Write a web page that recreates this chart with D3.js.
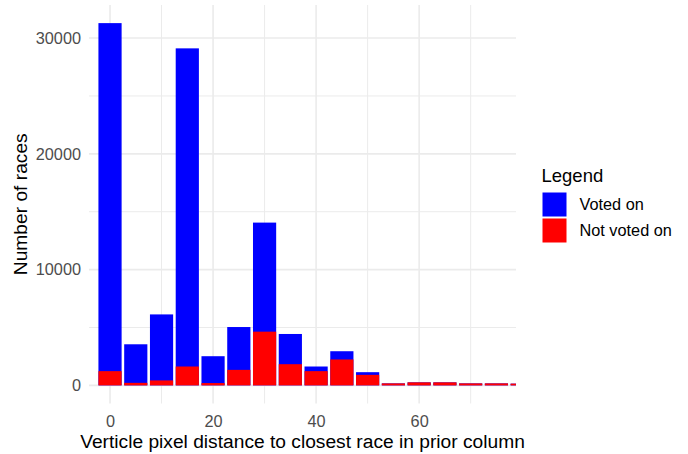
<!DOCTYPE html>
<html>
<head>
<meta charset="utf-8">
<script src="https://cdn.jsdelivr.net/npm/d3@7"></script>
<style>
  html, body { margin: 0; padding: 0; background: #fff; }
  svg { display: block; font-family: "Liberation Sans", Arial, sans-serif; }
</style>
</head>
<body>
<svg id="chart" width="688" height="454"></svg>
<script>
// Bin centres (binwidth 5)
const bins = [0, 5, 10, 15, 20, 25, 30, 35, 40, 45, 50, 55, 60, 65, 70, 75, 80];
// Total races per bin (voted on + not voted on)
const totalRaces = [31290, 3550, 6130, 29110, 2520, 5040, 14060, 4440, 1630, 2950, 1140, 170, 260, 260, 170, 170, 150];
// Races not voted on per bin
const notVoted = [1230, 220, 430, 1630, 200, 1340, 4640, 1830, 1230, 2240, 910, 170, 260, 260, 170, 170, 150];

const xTicks = [0, 20, 40, 60];
const xMinor = [10, 30, 50, 70];
const yTicks = [0, 10000, 20000, 30000];
const yMinor = [5000, 15000, 25000];

const legendLabels = ["Voted on", "Not voted on"];
const legendColors = ["#0000FF", "#FF0000"];

const panel = { left: 89, right: 516, top: 5, bottom: 403.5 };
const svg = d3.select("#chart");

const x = d3.scaleLinear().domain([-4.08, 78.8]).range([panel.left, panel.right]);
const y = d3.scaleLinear().domain([-1565, 32855]).range([panel.bottom, panel.top]);

const grid = svg.append("g");
// minor gridlines
grid.selectAll(".ymin").data(yMinor).join("line")
  .attr("x1", panel.left).attr("x2", panel.right)
  .attr("y1", d => y(d)).attr("y2", d => y(d))
  .attr("stroke", "#ebebeb").attr("stroke-width", 1);
grid.selectAll(".xmin").data(xMinor).join("line")
  .attr("y1", panel.top).attr("y2", panel.bottom)
  .attr("x1", d => x(d)).attr("x2", d => x(d))
  .attr("stroke", "#ebebeb").attr("stroke-width", 1);
// major gridlines
grid.selectAll(".ymaj").data(yTicks).join("line")
  .attr("x1", panel.left).attr("x2", panel.right)
  .attr("y1", d => y(d)).attr("y2", d => y(d))
  .attr("stroke", "#ebebeb").attr("stroke-width", 1.6);
grid.selectAll(".xmaj").data(xTicks).join("line")
  .attr("y1", panel.top).attr("y2", panel.bottom)
  .attr("x1", d => x(d)).attr("x2", d => x(d))
  .attr("stroke", "#ebebeb").attr("stroke-width", 1.6);

// clip to panel
svg.append("defs").append("clipPath").attr("id", "clip")
  .append("rect").attr("x", panel.left).attr("y", panel.top)
  .attr("width", panel.right - panel.left).attr("height", panel.bottom - panel.top);

const barW = 4.5;
const bars = svg.append("g").attr("clip-path", "url(#clip)");
bars.selectAll(".tot").data(bins).join("rect")
  .attr("x", (d) => x(d - barW / 2))
  .attr("width", x(barW) - x(0))
  .attr("y", (d, i) => y(totalRaces[i]))
  .attr("height", (d, i) => y(0) - y(totalRaces[i]))
  .attr("fill", legendColors[0]);
bars.selectAll(".nv").data(bins).join("rect")
  .attr("x", (d) => x(d - barW / 2))
  .attr("width", x(barW) - x(0))
  .attr("y", (d, i) => y(notVoted[i]))
  .attr("height", (d, i) => y(0) - y(notVoted[i]))
  .attr("fill", legendColors[1]);

// axes (text only, like ggplot theme_minimal)
const xAxis = svg.append("g").attr("transform", `translate(0,${panel.bottom})`)
  .call(d3.axisBottom(x).tickValues(xTicks).tickSize(0).tickPadding(12));
const yAxis = svg.append("g").attr("transform", `translate(${panel.left},0)`)
  .call(d3.axisLeft(y).tickValues(yTicks).tickSize(0).tickPadding(8).tickFormat(d3.format("d")));
[xAxis, yAxis].forEach(a => {
  a.select(".domain").remove();
  a.selectAll("text").attr("fill", "#4d4d4d").style("font-size", "16.3px")
    .style("font-family", "'Liberation Sans', Arial, sans-serif");
});

svg.append("text")
  .attr("x", (panel.left + panel.right) / 2 - 0).attr("y", 448)
  .attr("text-anchor", "middle").attr("fill", "#000")
  .style("font-size", "19.2px")
  .text("Verticle pixel distance to closest race in prior column");

svg.append("text")
  .attr("transform", `translate(27,${(panel.top + panel.bottom) / 2}) rotate(-90)`)
  .attr("text-anchor", "middle").attr("fill", "#000")
  .style("font-size", "19.2px")
  .text("Number of races");

// legend
const lg = svg.append("g");
lg.append("text").attr("x", 541.5).attr("y", 181.5)
  .attr("fill", "#000").style("font-size", "18.5px").text("Legend");
const items = lg.selectAll(".item").data(legendLabels).join("g")
  .attr("transform", (d, i) => `translate(542.5,${192.5 + i * 26})`);
items.append("rect").attr("width", 24).attr("height", 24)
  .attr("fill", (d, i) => legendColors[i]);
items.append("text").attr("x", 37).attr("y", 12).attr("dy", "0.35em")
  .attr("fill", "#000").style("font-size", "16.3px").text(d => d);
</script>
</body>
</html>
